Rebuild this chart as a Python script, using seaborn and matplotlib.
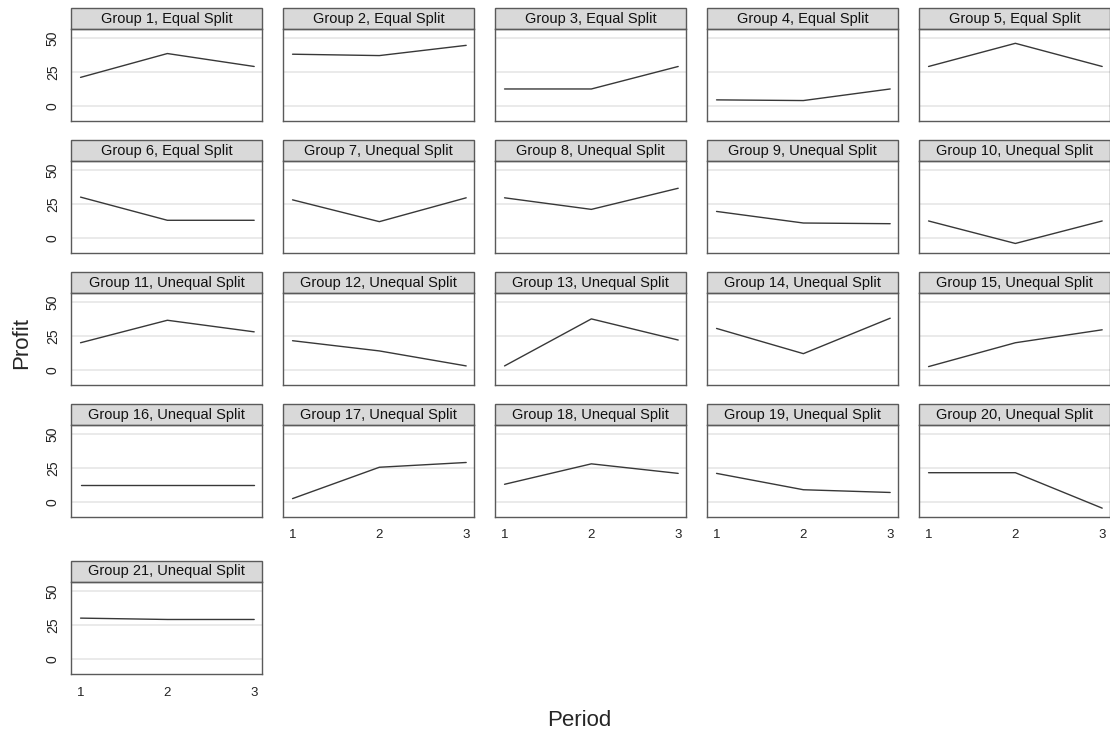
import matplotlib
matplotlib.use("Agg")
import matplotlib.pyplot as plt
from matplotlib.patches import Rectangle
import seaborn as sns
import pandas as pd

# ---- data ----
periods = [1, 2, 3]
group_ids = list(range(1, 22))
split_type = ["Equal Split"] * 6 + ["Unequal Split"] * 15
profit_p1 = [21, 38, 12.5, 4.5, 29, 30, 28, 29.5, 19.5, 12.5, 20, 21.5, 3, 30.5, 2.5, 12.5, 2.5, 13, 21, 21.5, 30]
profit_p2 = [38.5, 37, 12.5, 4, 46, 13, 12, 21, 11, -4, 36.5, 14, 37.5, 12, 20, 12.5, 25.5, 28, 9, 21.5, 29]
profit_p3 = [29, 44.5, 29, 12.5, 29, 13, 29.5, 36.5, 10.5, 12.5, 28, 3, 22, 38, 29.5, 12.5, 29, 21, 7, -4.5, 29]
y_ticks = [0, 25, 50]
x_ticks = [1, 2, 3]

rows = []
for i, g in enumerate(group_ids):
    label = f"Group {g}, {split_type[i]}"
    for p, v in zip(periods, [profit_p1[i], profit_p2[i], profit_p3[i]]):
        rows.append({"panel": label, "Period": p, "Profit": v})
df = pd.DataFrame(rows)
panel_order = [f"Group {g}, {split_type[i]}" for i, g in enumerate(group_ids)]

sns.set_style("white")
plt.rcParams["font.family"] = ["Liberation Sans", "DejaVu Sans"]

W, H = 1110, 738
g = sns.relplot(data=df, x="Period", y="Profit", col="panel", col_order=panel_order,
                col_wrap=5, kind="line", color="#383838", linewidth=1.0,
                facet_kws=dict(sharex=True, sharey=True))
g.figure.set_size_inches(W / 100, H / 100)
g.figure.set_dpi(100)
g.set_titles("")
g.set_axis_labels("", "")

tops = [29, 161, 293, 425, 582]
ph, pw = 92, 191
strip_h = 21
edge = "#5a5a5a"

for idx, ax in enumerate(g.axes.flat):
    r, c = divmod(idx, 5)
    left = 71 + 212 * c
    top = tops[r]
    ax.set_position([left / W, 1 - (top + ph) / H, pw / W, ph / H])
    ax.set_xlim(0.89, 3.09)
    ax.set_ylim(-11, 56.5)
    ax.set_xticks(x_ticks)
    ax.set_yticks(y_ticks)
    for yv in y_ticks:
        ax.axhline(yv, color="#e8e8e8", lw=1.3, zorder=0)
    for s in ax.spines.values():
        s.set_visible(True)
        s.set_color(edge)
        s.set_linewidth(1.0)
    show_x = idx >= 16
    show_y = c == 0
    ax.tick_params(axis="x", length=4 if show_x else 0, width=1, color=edge,
                   labelsize=9.5, labelbottom=show_x, pad=5, labelcolor="#222222")
    ax.tick_params(axis="y", length=4 if show_y else 0, width=1, color=edge,
                   labelsize=10, labelleft=show_y, pad=4, labelcolor="#222222")
    if show_y:
        for lab in ax.get_yticklabels():
            lab.set_rotation(90)
            lab.set_va("center")
    ax.add_patch(Rectangle((0, 1), 1, strip_h / ph, transform=ax.transAxes,
                           facecolor="#d9d9d9", edgecolor=edge, lw=1.0, clip_on=False))
    ax.text(0.5, 1 + strip_h / ph / 2, panel_order[idx], transform=ax.transAxes,
            ha="center", va="center", fontsize=10.5, color="#111111")

g.figure.text(22 / W, 1 - 343 / H, "Profit", rotation=90, ha="center", va="center", fontsize=16)
g.figure.text(579 / W, 1 - 720 / H, "Period", ha="center", va="center", fontsize=16)

g.figure.savefig("out.png", dpi=100)
